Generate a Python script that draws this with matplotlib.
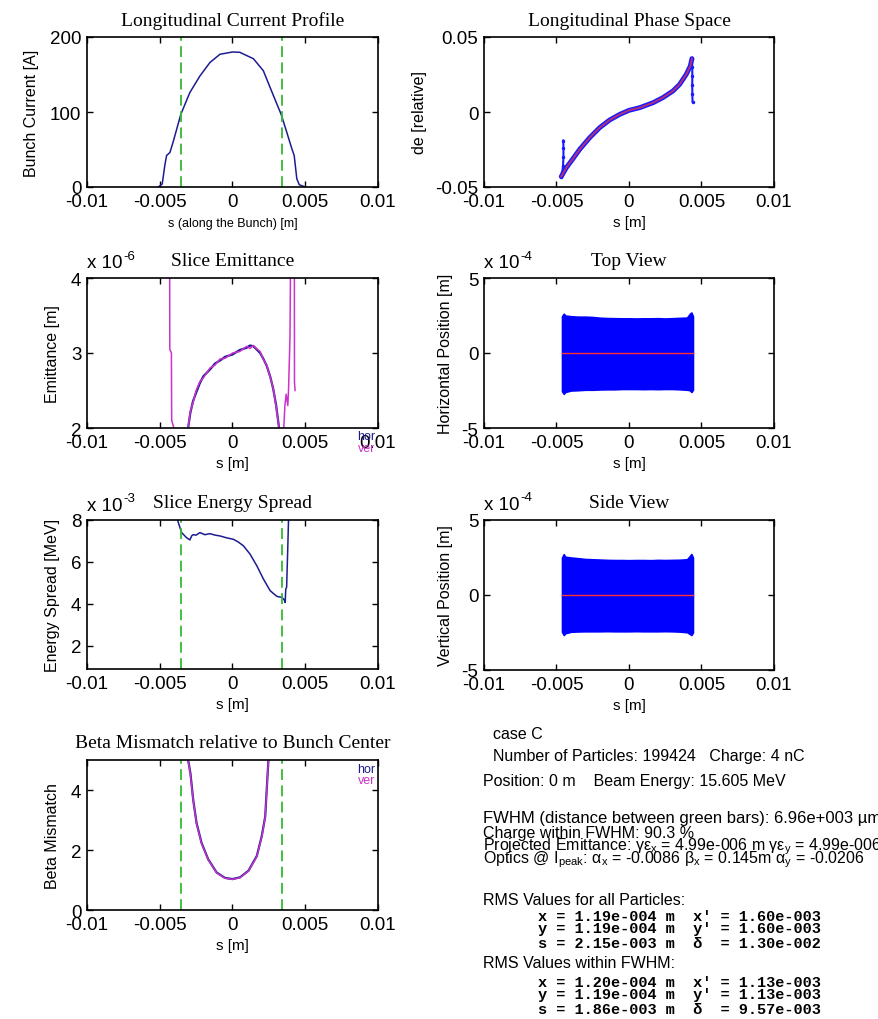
import matplotlib
matplotlib.use("Agg")
import matplotlib.pyplot as plt
from matplotlib.ticker import FuncFormatter
from matplotlib.transforms import offset_copy

plt.rcParams['font.family'] = ['Liberation Sans', 'DejaVu Sans']
plt.rcParams['mathtext.default'] = 'regular'

# ---- data ----
# longitudinal current profile [A] vs s [m]
s_cur = [-0.0051, -0.00483, -0.00465, -0.00453, -0.0043, -0.00408, -0.00355, -0.00293, -0.00224,
         -0.00155, -0.00086, 0.0, 0.0005, 0.00144, 0.00212, 0.00281, 0.00334, 0.00373, 0.00408,
         0.00424, 0.00442, 0.00459, 0.005]
I_cur = [0, 4, 29, 42, 46, 60, 97, 126, 148, 166, 177, 180, 179.6, 171, 155, 122, 97, 73, 51,
         42, 11, 3, 0]

# FWHM markers (green bars)
fwhm_s = [-0.00355, 0.00341]

# longitudinal phase space
s_ps = [-0.00467, -0.00432, -0.00386, -0.0034, -0.00271, -0.00202, -0.00133, -0.00064, 0.0,
        0.00074, 0.00166, 0.00234, 0.00303, 0.00349, 0.00395, 0.00423, 0.00434]
de_ps = [-0.043, -0.0371, -0.0311, -0.0249, -0.0171, -0.0104, -0.0053, -0.0016, 0.0011,
         0.0029, 0.0062, 0.0096, 0.014, 0.0184, 0.0251, 0.0307, 0.0356]
s_tail_l = [-0.00467, -0.0046, -0.00455, -0.00452, -0.00452, -0.00453]
de_tail_l = [-0.043, -0.040, -0.036, -0.030, -0.024, -0.019]
s_tail_r = [0.00434, 0.00436, 0.00437, 0.00436, 0.00437, 0.00438]
de_tail_r = [0.0356, 0.030, 0.024, 0.018, 0.012, 0.007]

# slice emittance [m]
s_em_hor = [-0.00305, -0.0029, -0.00271, -0.0025, -0.00224, -0.002, -0.00155, -0.0012, -0.00086,
            -0.0005, 0.0, 0.0005, 0.00098, 0.0012, 0.00144, 0.0017, 0.0019, 0.0021, 0.00235,
            0.0026, 0.0028, 0.003, 0.0032]
em_hor = [2.0e-6, 2.2e-6, 2.36e-6, 2.47e-6, 2.6e-6, 2.69e-6, 2.78e-6, 2.86e-6, 2.9e-6,
          2.95e-6, 2.98e-6, 3.04e-6, 3.07e-6, 3.1e-6, 3.09e-6, 3.04e-6, 3.0e-6, 2.93e-6, 2.83e-6,
          2.68e-6, 2.52e-6, 2.3e-6, 2.0e-6]
s_em_ver = [-0.0046, -0.00432, -0.00431, -0.0042, -0.00418, -0.0041, -0.00397, -0.0038,
            -0.00305, -0.0029, -0.00271, -0.0025, -0.00224, -0.002, -0.00155, -0.0012, -0.00086,
            -0.0005, 0.0, 0.0005, 0.00098, 0.0012, 0.00144, 0.0017, 0.0019, 0.0021, 0.00235,
            0.0026, 0.0028, 0.003, 0.0032, 0.0034, 0.0035, 0.0036, 0.00369, 0.0038, 0.00385,
            0.00395, 0.004, 0.0041, 0.00425, 0.00426, 0.0043]
em_ver = [4.5e-6, 4.5e-6, 3.05e-6, 3.0e-6, 2.1e-6, 2.05e-6, 1.95e-6, 1.8e-6,
          2.0e-6, 2.22e-6, 2.34e-6, 2.5e-6, 2.62e-6, 2.67e-6, 2.8e-6, 2.84e-6, 2.92e-6,
          2.93e-6, 3.0e-6, 3.02e-6, 3.09e-6, 3.06e-6, 3.1e-6, 3.05e-6, 3.02e-6, 2.92e-6, 2.84e-6,
          2.67e-6, 2.53e-6, 2.28e-6, 2.0e-6, 1.8e-6, 1.9e-6, 2.3e-6, 2.45e-6, 2.3e-6, 2.5e-6,
          3.2e-6, 4.5e-6, 4.5e-6, 4.5e-6, 2.61e-6, 2.5e-6]

# slice energy spread [MeV]
s_es = [-0.0039, -0.00378, -0.0035, -0.00316, -0.00293, -0.0028, -0.0027, -0.0025, -0.00224,
        -0.0019, -0.00155, -0.0012, -0.00086, -0.0004, 0.00006, 0.0004, 0.00075, 0.00121,
        0.00167, 0.00213, 0.00259, 0.00305, 0.0034, 0.00355, 0.00362, 0.00366, 0.00372,
        0.00379, 0.00385, 0.0039]
es = [9.0e-3, 8.0e-3, 7.4e-3, 7.16e-3, 7.05e-3, 7.25e-3, 7.3e-3, 7.28e-3, 7.4e-3,
      7.3e-3, 7.35e-3, 7.28e-3, 7.24e-3, 7.15e-3, 7.08e-3, 6.95e-3, 6.77e-3, 6.37e-3,
      5.82e-3, 5.18e-3, 4.63e-3, 4.36e-3, 4.31e-3, 4.2e-3, 4.07e-3, 4.7e-3, 4.8e-3,
      6.45e-3, 8.0e-3, 9.0e-3]

# beta mismatch
s_beta = [-0.00315, -0.00305, -0.00289, -0.0027, -0.00247, -0.00213, -0.00167, -0.00109,
          -0.00052, 0.0, 0.00052, 0.0011, 0.00167, 0.00201, 0.00225, 0.00235, 0.00247, 0.0026]
beta_hor = [6.0, 5.0, 4.55, 3.67, 2.9, 2.24, 1.69, 1.25, 1.07, 1.03, 1.09, 1.31, 1.8, 2.46,
            3.12, 4.0, 5.0, 6.0]
beta_ver = [6.0, 5.0, 4.5, 3.65, 2.88, 2.22, 1.68, 1.24, 1.06, 1.02, 1.08, 1.3, 1.78, 2.44,
            3.1, 3.98, 5.0, 6.0]

# top / side view: outline of the particle cloud [m]
s_cloud = [-0.00462, -0.0045, -0.0044, -0.004, -0.0035, -0.003, -0.0025, -0.002, -0.0015,
           -0.001, -0.0005, 0.0, 0.0005, 0.001, 0.0015, 0.002, 0.0025, 0.003, 0.0035, 0.004,
           0.0042, 0.0043, 0.00441]
x_hi = [2.45e-4, 2.62e-4, 2.5e-4, 2.45e-4, 2.42e-4, 2.42e-4, 2.4e-4, 2.35e-4, 2.33e-4, 2.32e-4,
        2.31e-4, 2.31e-4, 2.3e-4, 2.31e-4, 2.31e-4, 2.32e-4, 2.3e-4, 2.32e-4, 2.34e-4, 2.36e-4,
        2.62e-4, 2.7e-4, 2.45e-4]
x_lo = [-2.55e-4, -2.72e-4, -2.6e-4, -2.5e-4, -2.48e-4, -2.45e-4, -2.45e-4, -2.43e-4, -2.42e-4,
        -2.42e-4, -2.4e-4, -2.4e-4, -2.4e-4, -2.41e-4, -2.4e-4, -2.41e-4, -2.4e-4, -2.4e-4,
        -2.42e-4, -2.45e-4, -2.48e-4, -2.6e-4, -2.45e-4]
y_hi = [2.5e-4, 2.72e-4, 2.55e-4, 2.5e-4, 2.45e-4, 2.4e-4, 2.38e-4, 2.36e-4, 2.34e-4, 2.33e-4,
        2.33e-4, 2.32e-4, 2.33e-4, 2.33e-4, 2.32e-4, 2.34e-4, 2.33e-4, 2.34e-4, 2.35e-4, 2.38e-4,
        2.6e-4, 2.73e-4, 2.5e-4]
y_lo = [-2.45e-4, -2.67e-4, -2.55e-4, -2.45e-4, -2.43e-4, -2.42e-4, -2.42e-4, -2.42e-4,
        -2.41e-4, -2.42e-4, -2.42e-4, -2.42e-4, -2.41e-4, -2.42e-4, -2.42e-4, -2.42e-4,
        -2.41e-4, -2.42e-4, -2.44e-4, -2.48e-4, -2.6e-4, -2.67e-4, -2.5e-4]
s_centroid = [-0.00462, 0.00441]
x_centroid = [0.0, 0.0]

s_ticks = [-0.01, -0.005, 0, 0.005, 0.01]

info_lines = [
    ("case C", 493, 739, 11.5),
    ("Number of Particles: 199424   Charge: 4 nC", 493, 761, 11.5),
    ("Position: 0 m    Beam Energy: 15.605 MeV", 483, 786, 11.5),
    ("FWHM (distance between green bars): 6.96e+003 \u00b5m", 483, 823, 12),
    ("Charge within FWHM: 90.3 %", 483, 838, 11.5),
    ("Projected Emittance: \u03b3\u03b5$_x$ = 4.99e-006 m \u03b3\u03b5$_y$ = 4.99e-006 m", 483, 850, 11.5),
    ("Optics @ I$_{peak}$: \u03b1$_x$ = -0.0086 \u03b2$_x$ = 0.145m \u03b1$_y$ = -0.0206", 483, 863, 11.5),
    ("RMS Values for all Particles:", 483, 905, 11.5),
    ("RMS Values within FWHM:", 483, 968, 11.5),
]
rms_lines = [
    ("x = 1.19e-004 m  x' = 1.60e-003", 921),
    ("y = 1.19e-004 m  y' = 1.60e-003", 933),
    ("s = 2.15e-003 m  \u03b4  = 1.30e-002", 948),
    ("x = 1.20e-004 m  x' = 1.13e-003", 987),
    ("y = 1.19e-004 m  y' = 1.13e-003", 999),
    ("s = 1.86e-003 m  \u03b4  = 9.57e-003", 1014),
]

NAVY = '#1c1c90'
MAG = '#cc33cc'
GREEN = '#33bb33'
W, H = 879, 1020


def style(ax, ylim, yticks, scale=None):
    ax.set_xlim(-0.01, 0.01)
    ax.set_xticks(s_ticks)
    ax.xaxis.set_major_formatter(FuncFormatter(lambda v, p: '%g' % round(v, 6)))
    ax.set_ylim(*ylim)
    ax.set_yticks(yticks)
    if scale:
        ax.yaxis.set_major_formatter(FuncFormatter(lambda v, p: '%g' % round(v / scale, 6)))
    else:
        ax.yaxis.set_major_formatter(FuncFormatter(lambda v, p: '%g' % round(v, 6)))
    ax.tick_params(direction='in', top=True, right=True, length=4, width=1,
                   labelsize=13.5, pad=4)
    for sp in ax.spines.values():
        sp.set_linewidth(1.2)


def title(ax, txt):
    ax.set_title(txt, family=['Liberation Serif', 'DejaVu Serif'], fontsize=14, pad=9)


def exponent(ax, power):
    # MATLAB style "x 10^-n" above the y axis, with a plain hyphen
    ax.text(0.0, 1.07, "x 10", transform=ax.transAxes, fontsize=13.5,
            ha='left', va='baseline')
    tr = offset_copy(ax.transAxes, fig=ax.figure, x=36, y=9, units='dots')
    ax.text(0.0, 1.07, power, transform=tr, fontsize=9.5, ha='left', va='baseline')


def green_bars(ax):
    for xs in fwhm_s:
        ax.axvline(xs, color=GREEN, lw=1.3, linestyle=(0, (6, 3)))


def box(x0, y0, x1, y1):
    return [x0 / W, 1 - y1 / H, (x1 - x0) / W, (y1 - y0) / H]


fig = plt.figure(figsize=(8.79, 10.2), dpi=100)

# current profile
ax1 = fig.add_axes(box(87, 38, 378, 188))
ax1.plot(s_cur, I_cur, color=NAVY, lw=1.1)
green_bars(ax1)
style(ax1, (0, 200), [0, 100, 200])
title(ax1, "Longitudinal Current Profile")
ax1.set_xlabel("s (along the Bunch) [m]", fontsize=9, labelpad=5)
ax1.set_ylabel("Bunch Current [A]", fontsize=11.5, labelpad=8)

# phase space
ax2 = fig.add_axes(box(484, 38, 774, 188))
ax2.plot(s_ps, de_ps, color='#1a1aff', lw=3.5, solid_capstyle='round')
ax2.plot(s_tail_l, de_tail_l, color='#1a1aff', lw=1.5, marker='.', ms=3)
ax2.plot(s_tail_r, de_tail_r, color='#1a1aff', lw=1.5, marker='.', ms=3)
ax2.plot(s_ps, de_ps, color='#b0307a', lw=1.4)
style(ax2, (-0.05, 0.05), [-0.05, 0, 0.05])
title(ax2, "Longitudinal Phase Space")
ax2.set_xlabel("s [m]", fontsize=11, labelpad=4)
ax2.set_ylabel("de [relative]", fontsize=11.5, labelpad=6)

# slice emittance
ax3 = fig.add_axes(box(87, 279, 378, 429))
ax3.plot(s_em_hor, em_hor, color=NAVY, lw=1.6)
ax3.plot(s_em_ver, em_ver, color=MAG, lw=1.1)
style(ax3, (2e-6, 4e-6), [2e-6, 3e-6, 4e-6], scale=1e-6)
title(ax3, "Slice Emittance")
exponent(ax3, "-6")
ax3.set_xlabel("s [m]", fontsize=11, labelpad=4)
ax3.set_ylabel("Emittance [m]", fontsize=11.5, labelpad=8)
ax3.text(0.99, -0.073, "hor", transform=ax3.transAxes, color=NAVY, fontsize=9,
         ha='right', va='baseline')
ax3.text(0.99, -0.153, "ver", transform=ax3.transAxes, color=MAG, fontsize=9,
         ha='right', va='baseline')

# top view
ax4 = fig.add_axes(box(484, 279, 774, 429))
ax4.fill_between(s_cloud, x_lo, x_hi, color='#0000ff', lw=1.2, edgecolor='#0000ff')
ax4.plot(s_centroid, x_centroid, color='#ff3030', lw=1)
style(ax4, (-5e-4, 5e-4), [-5e-4, 0, 5e-4], scale=1e-4)
title(ax4, "Top View")
exponent(ax4, "-4")
ax4.set_xlabel("s [m]", fontsize=11, labelpad=4)
ax4.set_ylabel("Horizontal Position [m]", fontsize=11.5, labelpad=6)

# energy spread
ax5 = fig.add_axes(box(87, 521, 378, 670))
ax5.plot(s_es, es, color=NAVY, lw=1.1)
green_bars(ax5)
style(ax5, (0.9e-3, 8e-3), [2e-3, 4e-3, 6e-3, 8e-3], scale=1e-3)
title(ax5, "Slice Energy Spread")
exponent(ax5, "-3")
ax5.set_xlabel("s [m]", fontsize=11, labelpad=4)
ax5.set_ylabel("Energy Spread [MeV]", fontsize=11.5, labelpad=8)

# side view
ax6 = fig.add_axes(box(484, 521, 774, 671))
ax6.fill_between(s_cloud, y_lo, y_hi, color='#0000ff', lw=1.2, edgecolor='#0000ff')
ax6.plot(s_centroid, x_centroid, color='#ff3030', lw=1)
style(ax6, (-5e-4, 5e-4), [-5e-4, 0, 5e-4], scale=1e-4)
title(ax6, "Side View")
exponent(ax6, "-4")
ax6.set_xlabel("s [m]", fontsize=11, labelpad=4)
ax6.set_ylabel("Vertical Position [m]", fontsize=11.5, labelpad=6)

# beta mismatch
ax7 = fig.add_axes(box(87, 761, 378, 911))
ax7.plot(s_beta, beta_hor, color=NAVY, lw=1.6)
ax7.plot(s_beta, beta_ver, color=MAG, lw=1.0)
green_bars(ax7)
style(ax7, (0, 5), [0, 2, 4])
title(ax7, "Beta Mismatch relative to Bunch Center")
ax7.set_xlabel("s [m]", fontsize=11, labelpad=4)
ax7.set_ylabel("Beta Mismatch", fontsize=11.5, labelpad=8)
ax7.text(0.99, 0.92, "hor", transform=ax7.transAxes, color=NAVY, fontsize=9,
         ha='right', va='baseline')
ax7.text(0.99, 0.847, "ver", transform=ax7.transAxes, color=MAG, fontsize=9,
         ha='right', va='baseline')

# info text block
for txt, x, y, fs in info_lines:
    fig.text(x / W, 1 - y / H, txt, fontsize=fs, ha='left', va='baseline')
for txt, y in rms_lines:
    fig.text(538 / W, 1 - y / H, txt, family=['Liberation Mono', 'DejaVu Sans Mono'],
             fontsize=11, fontweight='bold', ha='left', va='baseline')

fig.savefig("out.png", dpi=100)
